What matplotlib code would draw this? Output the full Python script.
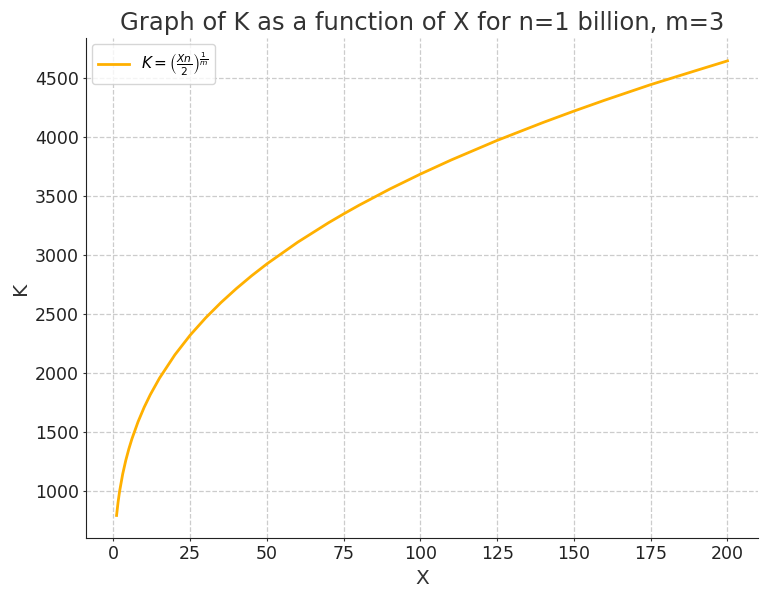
import matplotlib
matplotlib.use("Agg")
import matplotlib.pyplot as plt

# values
x_vals = [1, 1.5, 2, 3, 4, 5, 6, 8, 10, 12, 15, 20, 25, 30, 35, 40, 45, 50, 60,
          70, 75, 80, 90, 100, 110, 125, 140, 150, 160, 175, 190, 200]
k_vals = [794, 908, 1000, 1145, 1260, 1357, 1442, 1587, 1710, 1817, 1957, 2154,
          2321, 2466, 2596, 2714, 2823, 2924, 3107, 3271, 3347, 3420, 3557,
          3684, 3803, 3969, 4121, 4217, 4309, 4441, 4562, 4642]

title = "Graph of K as a function of X for n=1 billion, m=3"
legend_label = r"$K = \left(\frac{Xn}{2}\right)^{\frac{1}{m}}$"

fig = plt.figure(figsize=(7.68, 5.96), dpi=100)
ax = fig.add_subplot(1, 1, 1)

ax.plot(x_vals, k_vals, color="#FFB000", linewidth=2, label=legend_label)

ax.set_title(title, fontsize=17.5, color="#333333")
ax.set_xlabel("X", fontsize=14.5, color="#333333")
ax.set_ylabel("K", fontsize=14.5, color="#333333")
ax.set_xticks([0, 25, 50, 75, 100, 125, 150, 175, 200])
ax.set_yticks([1000, 1500, 2000, 2500, 3000, 3500, 4000, 4500])
ax.tick_params(labelsize=12.5, labelcolor="#222222", color="#333333",
               length=2.5, pad=2.5)

ax.grid(True, linestyle="--", color="#cccccc", linewidth=0.9)
ax.spines["top"].set_visible(False)
ax.spines["right"].set_visible(False)
ax.spines["left"].set_color("#222222")
ax.spines["bottom"].set_color("#222222")

ax.legend(loc="upper left", fontsize=11, borderaxespad=0.4)

fig.subplots_adjust(left=0.112, right=0.987, top=0.936, bottom=0.097)
plt.savefig("out.png", dpi=100)
